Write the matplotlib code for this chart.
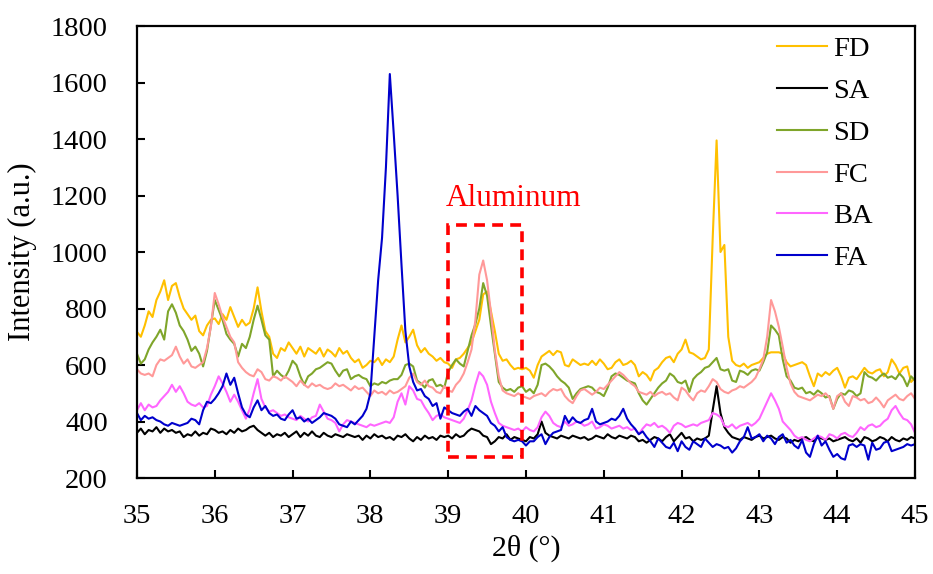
import numpy as np
import matplotlib
matplotlib.use("Agg")
import matplotlib.pyplot as plt
from matplotlib.patches import Rectangle

plt.rcParams['font.family'] = ['Liberation Serif', 'DejaVu Serif']

# 2theta grid, 0.05 deg step
two_theta = np.round(np.arange(35.0, 45.001, 0.05), 2)

FD = [717, 700, 740, 790, 770, 830, 860, 900, 830, 880, 890, 840, 800, 780, 760, 775, 720, 705, 740, 760,
      765, 745, 780, 760, 805, 770, 735, 760, 740, 750, 800, 875, 790, 720, 700, 640, 625, 660, 650, 680,
      660, 640, 665, 630, 660, 650, 640, 660, 630, 655, 645, 630, 660, 640, 650, 625, 610, 620, 590, 600,
      615, 610, 625, 600, 620, 610, 630, 690, 740, 680, 700, 725, 670, 645, 660, 640, 630, 615, 625, 610,
      605, 590, 620, 625, 640, 660, 680, 720, 760, 850, 860, 790, 720, 640, 615, 620, 600, 585, 590, 585,
      590, 580, 555, 600, 630, 640, 650, 635, 650, 645, 600, 595, 620, 610, 600, 605, 600, 615, 600, 620,
      605, 585, 590, 610, 620, 600, 605, 615, 600, 560, 575, 565, 545, 580, 590, 610, 625, 630, 610, 640,
      655, 690, 645, 640, 630, 620, 625, 655, 1050, 1395, 1000, 1025, 700, 615, 600, 595, 605, 590, 600, 605,
      610, 625, 640, 645, 645, 645, 640, 610, 595, 600, 605, 610, 600, 560, 525, 570, 560, 575, 565, 580,
      590, 560, 520, 555, 560, 550, 570, 590, 575, 570, 580, 585, 560, 575, 620, 600, 570, 590, 595, 540,
      555]

SA = [360, 375, 355, 370, 365, 380, 360, 375, 365, 370, 360, 365, 345, 355, 350, 365, 350, 360, 355, 375,
      370, 360, 365, 355, 370, 360, 375, 365, 370, 380, 385, 370, 360, 350, 360, 345, 355, 350, 360, 345,
      355, 365, 345, 360, 350, 365, 350, 345, 360, 350, 345, 355, 350, 345, 355, 350, 345, 350, 335, 350,
      340, 355, 345, 350, 340, 345, 335, 350, 345, 355, 340, 330, 345, 335, 350, 340, 345, 335, 350, 345,
      350, 340, 355, 345, 350, 365, 375, 370, 365, 350, 345, 320, 330, 345, 340, 355, 335, 345, 340, 335,
      330, 345, 340, 355, 400, 360, 350, 345, 340, 350, 345, 340, 350, 345, 340, 345, 335, 340, 350, 345,
      340, 355, 345, 340, 350, 345, 340, 350, 345, 330, 335, 325, 335, 345, 340, 330, 345, 355, 330, 345,
      360, 340, 345, 330, 340, 335, 340, 350, 440, 525, 430, 380, 360, 345, 340, 335, 345, 340, 335, 345,
      350, 340, 345, 350, 340, 335, 345, 340, 325, 335, 330, 340, 345, 335, 330, 345, 340, 335, 340, 330,
      335, 340, 345, 335, 330, 340, 325, 345, 340, 330, 335, 345, 340, 330, 345, 335, 330, 340, 335, 345,
      340]

SD = [640, 605, 620, 655, 680, 700, 725, 690, 790, 815, 785, 740, 720, 690, 650, 665, 640, 595, 650, 740,
      830, 795, 760, 710, 690, 675, 630, 675, 660, 700, 760, 810, 760, 705, 690, 560, 580, 565, 555, 580,
      615, 600, 560, 530, 560, 570, 585, 590, 600, 610, 605, 580, 560, 580, 585, 550, 560, 565, 555, 550,
      525, 535, 530, 540, 535, 545, 550, 550, 565, 600, 605, 595, 545, 535, 520, 545, 550, 525, 530, 520,
      575, 600, 620, 605, 595, 650, 705, 745, 800, 890, 845, 740, 640, 540, 520, 510, 515, 505, 520, 525,
      505, 515, 500, 530, 600, 605, 595, 580, 560, 545, 535, 520, 480, 500, 515, 520, 525, 520, 505, 500,
      490, 520, 560, 570, 565, 555, 545, 540, 535, 500, 475, 460, 480, 500, 520, 535, 545, 570, 560, 540,
      535, 545, 505, 550, 565, 575, 590, 595, 610, 625, 585, 580, 585, 545, 540, 580, 575, 565, 580, 585,
      580, 610, 645, 740, 725, 705, 620, 560, 545, 520, 515, 520, 500, 505, 495, 510, 500, 485, 490, 445,
      480, 500, 495, 510, 505, 490, 500, 575, 560, 555, 545, 560, 570, 555, 560, 550, 570, 555, 525, 560,
      545]

FC = [585, 570, 565, 570, 560, 600, 620, 615, 625, 635, 665, 630, 605, 620, 595, 590, 600, 610, 660, 735,
      855, 815, 770, 735, 700, 680, 610, 590, 575, 565, 560, 585, 575, 550, 545, 560, 555, 545, 560, 550,
      540, 525, 545, 530, 520, 535, 525, 530, 520, 515, 520, 535, 525, 530, 520, 510, 525, 515, 520, 505,
      490, 510, 500, 505, 495, 510, 500, 505, 515, 525, 555, 570, 540, 530, 545, 525, 520, 505, 500, 525,
      510, 505, 530, 545, 570, 610, 655, 760, 920, 970, 900, 785, 650, 560, 510, 500, 495, 490, 500, 490,
      485, 480, 490, 495, 500, 490, 505, 515, 510, 515, 490, 475, 465, 490, 510, 515, 505, 495, 505, 520,
      515, 530, 545, 560, 575, 565, 550, 535, 525, 505, 500, 495, 505, 490, 500, 505, 495, 500, 485, 475,
      520, 510, 490, 475, 500, 510, 505, 525, 550, 540, 515, 505, 500, 510, 515, 525, 520, 530, 540, 555,
      585, 620, 700, 830, 790, 735, 665, 590, 535, 505, 490, 485, 480, 475, 485, 495, 490, 500, 485, 445,
      490, 500, 470, 455, 490, 485, 475, 480, 465, 470, 485, 470, 450, 475, 485, 495, 480, 475, 490, 500,
      480]

BA = [440, 465, 440, 460, 450, 455, 475, 490, 505, 530, 505, 525, 500, 470, 460, 455, 465, 450, 455, 495,
      525, 560, 535, 505, 470, 495, 470, 440, 410, 445, 500, 550, 480, 450, 435, 440, 430, 420, 425, 415,
      410, 405, 420, 410, 400, 415, 420, 460, 435, 410, 405, 395, 365, 390, 405, 400, 395, 390, 385, 380,
      390, 385, 390, 395, 400, 395, 415, 470, 500, 460, 525, 510, 480, 475, 450, 430, 405, 420, 425, 415,
      410, 405, 400, 395, 410, 440, 475, 530, 575, 560, 530, 470, 430, 395, 385, 380, 375, 370, 375, 365,
      380, 370, 365, 380, 415, 435, 420, 395, 385, 380, 400, 385, 390, 400, 395, 385, 390, 400, 375, 380,
      390, 385, 375, 380, 385, 375, 380, 370, 375, 355, 375, 390, 385, 395, 380, 385, 375, 360, 385, 395,
      390, 380, 385, 390, 385, 395, 400, 405, 430, 425, 415, 385, 380, 390, 375, 385, 390, 395, 385, 395,
      410, 440, 470, 500, 475, 445, 400, 385, 370, 350, 340, 345, 335, 330, 340, 350, 345, 335, 355, 350,
      340, 355, 360, 350, 345, 360, 380, 370, 385, 390, 380, 385, 400, 410, 440, 455, 430, 410, 405, 390,
      360]

FA = [430, 405, 420, 410, 415, 405, 400, 390, 385, 395, 390, 385, 390, 395, 410, 405, 390, 440, 470, 465,
      480, 500, 525, 570, 530, 555, 500, 450, 425, 415, 450, 475, 440, 455, 430, 420, 425, 410, 405, 425,
      440, 410, 415, 400, 410, 395, 405, 415, 430, 425, 420, 410, 390, 385, 380, 400, 390, 405, 420, 445,
      500, 700, 900, 1050, 1300, 1630, 1420, 1200, 955, 720, 595, 540, 510, 515, 490, 480, 455, 465, 410, 450,
      440, 430, 425, 420, 435, 445, 420, 455, 440, 430, 420, 395, 385, 365, 380, 345, 335, 330, 335, 330,
      315, 330, 330, 345, 355, 320, 345, 360, 365, 370, 420, 395, 415, 400, 395, 405, 410, 445, 400, 390,
      395, 400, 410, 405, 420, 445, 410, 390, 375, 355, 365, 345, 330, 310, 340, 325, 310, 305, 325, 295,
      330, 310, 300, 330, 320, 310, 340, 325, 310, 320, 315, 305, 310, 290, 305, 330, 345, 380, 340, 345,
      355, 330, 350, 340, 320, 345, 355, 325, 335, 315, 305, 335, 290, 275, 320, 350, 315, 330, 300, 275,
      285, 270, 265, 315, 320, 310, 320, 315, 265, 325, 300, 305, 325, 330, 295, 300, 305, 310, 320, 315,
      320]

names = ["FD", "SA", "SD", "FC", "BA", "FA"]
series = [FD, SA, SD, FC, BA, FA]
colors = ["#FFC000", "#000000", "#7FA52A", "#FF9999", "#FF66FF", "#0000CC"]

# marked Al region (2theta range and intensity span)
al_x = [39.0, 39.95]
al_y = [275, 1095]

fig = plt.figure(figsize=(9.33, 5.74), dpi=100)
ax = fig.add_axes([0.1468, 0.1672, 0.8339, 0.7875])

for name, ys, c in zip(names, series, colors):
    ax.plot(two_theta, ys, color=c, lw=1.5, label=name)

rect = Rectangle((al_x[0], al_y[0]), al_x[1] - al_x[0], al_y[1] - al_y[0],
                 fill=False, edgecolor="#FF0000", lw=2.6, linestyle=(0, (3, 2)), zorder=5)
ax.add_patch(rect)
ax.text(al_x[0] - 0.03, 1188, "Aluminum", color="#FF0000", fontsize=22.5,
        ha="left", va="center")

ax.set_xlim(35, 45)
ax.set_ylim(200, 1800)
ax.set_xticks(range(35, 46))
ax.set_yticks(range(200, 1801, 200))
ax.tick_params(direction="in", length=6, width=1.5, labelsize=20.5)
ax.tick_params(axis="x", pad=19)
ax.tick_params(axis="y", pad=21)
for s in ax.spines.values():
    s.set_linewidth(1.6)

ax.set_xlabel("2θ (°)", fontsize=21.5, labelpad=4)
ax.set_ylabel("Intensity (a.u.)", fontsize=22, labelpad=10)

ax.legend(loc="upper left", bbox_to_anchor=(0.823, 0.978), frameon=False,
          fontsize=20.5, handlelength=1.75, handletextpad=0.2, labelspacing=0.56,
          borderaxespad=0, borderpad=0)

plt.savefig("out.png", dpi=100)
